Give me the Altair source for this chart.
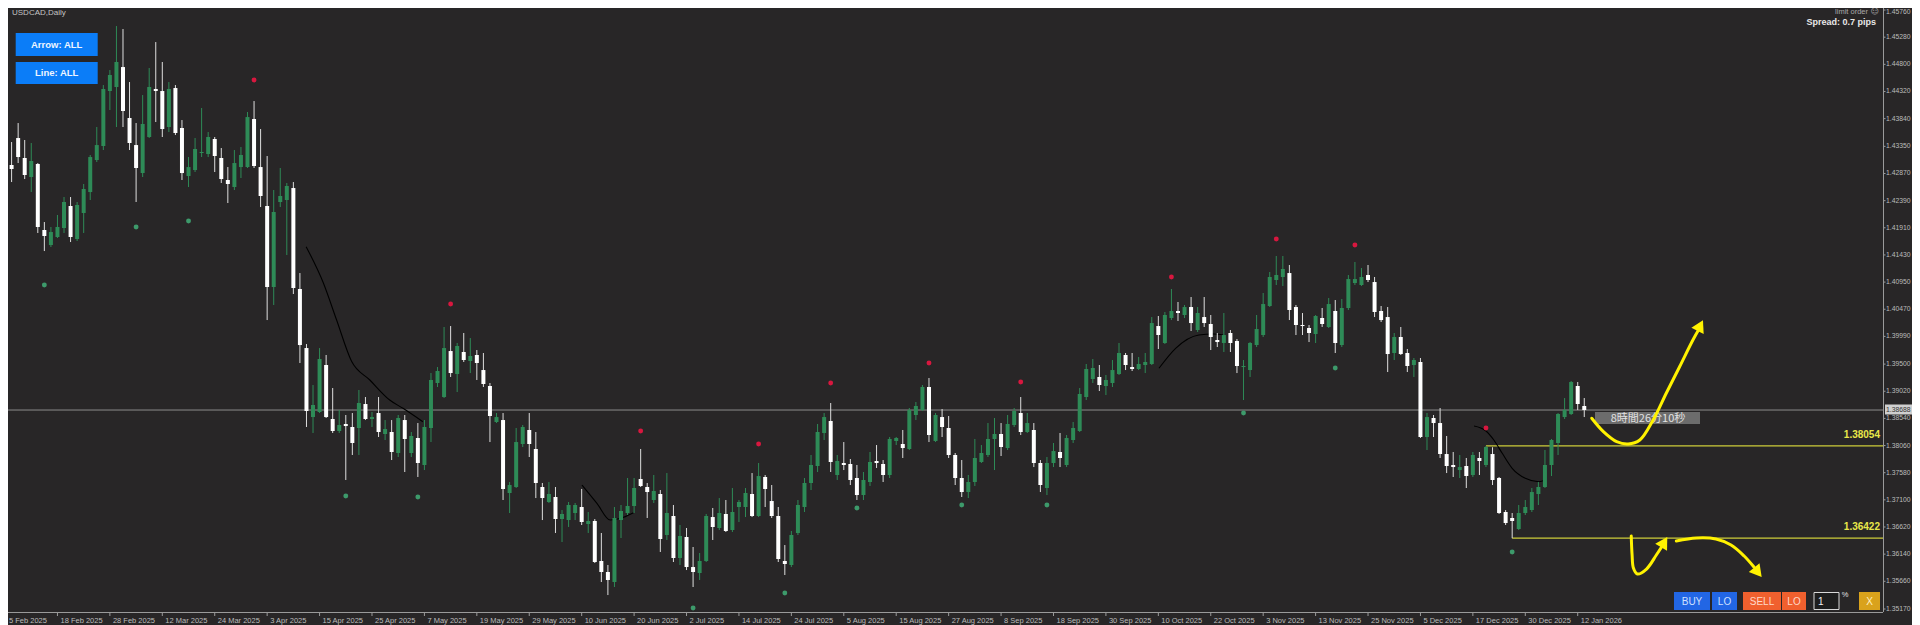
import altair as alt
import pandas as pd

# ---------------- data ----------------
date_labels = ["5 Feb 2025", "18 Feb 2025", "28 Feb 2025", "12 Mar 2025", "24 Mar 2025",
               "3 Apr 2025", "15 Apr 2025", "25 Apr 2025", "7 May 2025", "19 May 2025",
               "29 May 2025", "10 Jun 2025", "20 Jun 2025", "2 Jul 2025", "14 Jul 2025",
               "24 Jul 2025", "5 Aug 2025", "15 Aug 2025", "27 Aug 2025", "8 Sep 2025",
               "18 Sep 2025", "30 Sep 2025", "10 Oct 2025", "22 Oct 2025", "3 Nov 2025",
               "13 Nov 2025", "25 Nov 2025", "5 Dec 2025", "17 Dec 2025", "30 Dec 2025",
               "12 Jan 2026"]

price_ticks = [1.45760, 1.45280, 1.44800, 1.44320, 1.43840, 1.43350, 1.42870, 1.42390,
               1.41910, 1.41430, 1.40950, 1.40470, 1.39990, 1.39500, 1.39020, 1.38540,
               1.38060, 1.37580, 1.37100, 1.36620, 1.36140, 1.35660, 1.35170]

opens = [
    1.43126, 1.43020, 1.43497, 1.43144, 1.42808, 1.43038, 1.41871, 1.41605, 1.41747, 1.41906,
    1.42295, 1.41712, 1.42171, 1.42542, 1.43108, 1.43356, 1.44328, 1.44399, 1.44752, 1.43851,
    1.43373, 1.42878, 1.43515, 1.44364, 1.44328, 1.43692, 1.44381, 1.43674, 1.42825, 1.42931,
    1.43232, 1.43214, 1.43480, 1.43144, 1.42755, 1.42631, 1.42984, 1.42984, 1.43833, 1.42984,
    1.42295, 1.40863, 1.42366, 1.42401, 1.42613, 1.40828, 1.39784, 1.38564, 1.38653, 1.39484,
    1.38529, 1.38317, 1.38441, 1.38388, 1.38370, 1.38794, 1.38529, 1.38635, 1.38264, 1.38299,
    1.37928, 1.38511, 1.37928, 1.38193, 1.37716, 1.38370, 1.39166, 1.38918, 1.39731, 1.39325,
    1.39714, 1.39555, 1.39661, 1.39395, 1.39113, 1.38476, 1.38511, 1.37221, 1.37327, 1.38087,
    1.38335, 1.37999, 1.37327, 1.37062, 1.37150, 1.36761, 1.36743, 1.36867, 1.36973, 1.36673,
    1.36726, 1.36019, 1.35824, 1.35647, 1.36743, 1.36867, 1.36991, 1.37468, 1.37327, 1.37097,
    1.37203, 1.36478, 1.36814, 1.36072, 1.36443, 1.35912, 1.35806, 1.36019, 1.36796, 1.36602,
    1.36850, 1.36567, 1.36973, 1.36973, 1.37203, 1.36814, 1.37504, 1.37079, 1.36814, 1.36019,
    1.35948, 1.36514, 1.36973, 1.37398, 1.37698, 1.38282, 1.38494, 1.37539, 1.37751, 1.37734,
    1.37486, 1.37185, 1.37415, 1.37787, 1.37734, 1.37539, 1.38140, 1.38087, 1.37999, 1.38600,
    1.38688, 1.39095, 1.38140, 1.38564, 1.38370, 1.37893, 1.37486, 1.37238, 1.37415, 1.37769,
    1.37893, 1.38176, 1.38264, 1.38016, 1.38423, 1.38635, 1.38299, 1.38335, 1.37751, 1.37309,
    1.37751, 1.37946, 1.37716, 1.38158, 1.38317, 1.38918, 1.39236, 1.39272, 1.39113, 1.39166,
    1.39325, 1.39661, 1.39448, 1.39413, 1.39484, 1.39502, 1.40173, 1.39873, 1.40315, 1.40439,
    1.40368, 1.40509, 1.40103, 1.40332, 1.40209, 1.39926, 1.39873, 1.40050, 1.39908, 1.39448,
    1.39395, 1.39837, 1.40014, 1.40527, 1.40987, 1.41040, 1.41110, 1.40509, 1.40191, 1.40138,
    1.40032, 1.40315, 1.40156, 1.40439, 1.39837, 1.40492, 1.40934, 1.40898, 1.41075, 1.40951,
    1.40439, 1.40332, 1.39696, 1.39979, 1.39696, 1.39484, 1.39537, 1.38211, 1.38547, 1.38458,
    1.37910, 1.37716, 1.37627, 1.37698, 1.37539, 1.37840, 1.37716, 1.37910, 1.37486, 1.36885,
    1.36779, 1.36584, 1.36867, 1.36920, 1.37203, 1.37327, 1.37716, 1.38105, 1.38564, 1.38618,
    1.39113, 1.38759]

highs = [
    1.43232, 1.43426, 1.43762, 1.43462, 1.43409, 1.43055, 1.42012, 1.41924, 1.42136, 1.42454,
    1.42454, 1.42366, 1.42684, 1.43197, 1.43692, 1.44434, 1.44699, 1.45477, 1.45424, 1.44487,
    1.43762, 1.44257, 1.44735, 1.45194, 1.44841, 1.44487, 1.44434, 1.43815, 1.43161, 1.43497,
    1.44028, 1.43603, 1.43515, 1.43320, 1.42984, 1.43285, 1.43338, 1.43957, 1.44151, 1.43656,
    1.43179, 1.42578, 1.42967, 1.42702, 1.42719, 1.41110, 1.39855, 1.39130, 1.39784, 1.39661,
    1.39077, 1.38688, 1.38600, 1.38635, 1.39042, 1.38918, 1.38653, 1.38918, 1.38511, 1.38511,
    1.38600, 1.38600, 1.38299, 1.38458, 1.38511, 1.39342, 1.39448, 1.40156, 1.40173, 1.39873,
    1.40050, 1.39961, 1.39749, 1.39696, 1.39166, 1.38635, 1.38635, 1.37415, 1.38370, 1.38423,
    1.38635, 1.38299, 1.37398, 1.37415, 1.37327, 1.36920, 1.37062, 1.37044, 1.37292, 1.36885,
    1.36761, 1.36514, 1.35948, 1.36973, 1.37009, 1.37486, 1.37486, 1.37999, 1.37398, 1.37539,
    1.37274, 1.37574, 1.37009, 1.36655, 1.36602, 1.36266, 1.36160, 1.36850, 1.36956, 1.37132,
    1.37097, 1.37309, 1.37097, 1.37309, 1.37574, 1.37751, 1.37539, 1.37362, 1.36973, 1.36301,
    1.36549, 1.37097, 1.37486, 1.37893, 1.38441, 1.38635, 1.38812, 1.37893, 1.38122, 1.37822,
    1.37716, 1.37592, 1.37946, 1.38069, 1.37804, 1.38211, 1.38211, 1.38335, 1.38724, 1.38830,
    1.39130, 1.39254, 1.38635, 1.38706, 1.38582, 1.37928, 1.37804, 1.37539, 1.38176, 1.38069,
    1.38458, 1.38547, 1.38458, 1.38600, 1.38724, 1.38918, 1.38635, 1.38458, 1.37804, 1.37857,
    1.38105, 1.38282, 1.38246, 1.38476, 1.39077, 1.39502, 1.39590, 1.39484, 1.39307, 1.39572,
    1.39873, 1.39696, 1.39696, 1.39625, 1.39696, 1.40332, 1.40350, 1.40421, 1.40828, 1.40598,
    1.40545, 1.40686, 1.40509, 1.40686, 1.40368, 1.40050, 1.40403, 1.40103, 1.39944, 1.39572,
    1.39890, 1.40368, 1.40757, 1.41128, 1.41411, 1.41411, 1.41252, 1.40545, 1.40403, 1.40191,
    1.40368, 1.40492, 1.40668, 1.40633, 1.40651, 1.41075, 1.41305, 1.41199, 1.41252, 1.41040,
    1.40527, 1.40509, 1.40050, 1.40156, 1.39767, 1.39608, 1.39608, 1.38635, 1.38600, 1.38724,
    1.38229, 1.37946, 1.37893, 1.37840, 1.37946, 1.37946, 1.38054, 1.38030, 1.37504, 1.36920,
    1.36867, 1.37009, 1.37097, 1.37309, 1.37415, 1.37981, 1.38176, 1.38635, 1.38900, 1.39201,
    1.39183, 1.38900]

lows = [
    1.42984, 1.42719, 1.43055, 1.42772, 1.42542, 1.41818, 1.41499, 1.41570, 1.41729, 1.41818,
    1.41658, 1.41676, 1.41818, 1.42401, 1.43073, 1.43285, 1.43992, 1.43692, 1.43692, 1.43285,
    1.42366, 1.42808, 1.43497, 1.43780, 1.43515, 1.43603, 1.43550, 1.42755, 1.42631, 1.42896,
    1.43161, 1.43161, 1.42896, 1.42702, 1.42348, 1.42578, 1.42790, 1.42967, 1.42967, 1.42277,
    1.40279, 1.40545, 1.42277, 1.41429, 1.40739, 1.39519, 1.38388, 1.38282, 1.38635, 1.38547,
    1.38282, 1.38282, 1.37451, 1.37893, 1.37893, 1.38511, 1.38388, 1.38211, 1.38158, 1.37804,
    1.37857, 1.37592, 1.37857, 1.37504, 1.37627, 1.38122, 1.39095, 1.38900, 1.39272, 1.39006,
    1.39537, 1.39342, 1.39219, 1.39095, 1.38122, 1.38458, 1.37097, 1.36867, 1.37309, 1.38034,
    1.37857, 1.37132, 1.36743, 1.37044, 1.36514, 1.36354, 1.36620, 1.36743, 1.36655, 1.36514,
    1.35983, 1.35647, 1.35417, 1.35559, 1.36425, 1.36832, 1.36867, 1.37327, 1.36779, 1.37044,
    1.36178, 1.36390, 1.36001, 1.35948, 1.35859, 1.35559, 1.35683, 1.36001, 1.36390, 1.36567,
    1.36531, 1.36531, 1.36708, 1.36796, 1.36796, 1.36796, 1.36973, 1.36779, 1.36001, 1.35771,
    1.35912, 1.36478, 1.36885, 1.37274, 1.37592, 1.38158, 1.37592, 1.37451, 1.37627, 1.37362,
    1.37097, 1.37097, 1.37345, 1.37663, 1.37415, 1.37486, 1.38069, 1.37840, 1.37981, 1.38511,
    1.38671, 1.38122, 1.38122, 1.38211, 1.37840, 1.37362, 1.37150, 1.37132, 1.37345, 1.37751,
    1.37857, 1.37627, 1.37875, 1.37981, 1.38388, 1.38246, 1.38282, 1.37680, 1.37238, 1.37185,
    1.37680, 1.37680, 1.37680, 1.38105, 1.38299, 1.38865, 1.39166, 1.39024, 1.38953, 1.39095,
    1.39307, 1.39395, 1.39378, 1.39395, 1.39342, 1.39484, 1.39767, 1.39855, 1.40279, 1.40262,
    1.40315, 1.40085, 1.40067, 1.40156, 1.39749, 1.39802, 1.39714, 1.39714, 1.39342, 1.38865,
    1.39272, 1.39802, 1.39979, 1.40509, 1.40898, 1.40881, 1.40279, 1.40014, 1.40014, 1.39890,
    1.39873, 1.40156, 1.40138, 1.39696, 1.39802, 1.40456, 1.40898, 1.40881, 1.40951, 1.40332,
    1.40244, 1.39360, 1.39572, 1.39661, 1.39360, 1.39272, 1.38193, 1.37981, 1.38211, 1.37840,
    1.37574, 1.37504, 1.37486, 1.37309, 1.37504, 1.37539, 1.37680, 1.37362, 1.36850, 1.36655,
    1.36422, 1.36567, 1.36832, 1.36885, 1.37009, 1.37309, 1.37521, 1.37893, 1.38529, 1.38600,
    1.38688, 1.38564]

closes = [
    1.43055, 1.42949, 1.43161, 1.42843, 1.43091, 1.41924, 1.41765, 1.41835, 1.41924, 1.42366,
    1.41747, 1.42313, 1.42596, 1.43161, 1.43373, 1.44364, 1.44611, 1.44841, 1.43975, 1.43409,
    1.42967, 1.43745, 1.44399, 1.44328, 1.43656, 1.44364, 1.43586, 1.42878, 1.42984, 1.43303,
    1.43250, 1.43515, 1.43179, 1.42772, 1.42684, 1.43055, 1.43197, 1.43868, 1.43002, 1.42472,
    1.40863, 1.42189, 1.42472, 1.42649, 1.40845, 1.39837, 1.38671, 1.38777, 1.39590, 1.38564,
    1.38317, 1.38423, 1.38405, 1.38105, 1.38812, 1.38529, 1.38564, 1.38299, 1.38352, 1.37946,
    1.38547, 1.38176, 1.38229, 1.37751, 1.38388, 1.39219, 1.39378, 1.39784, 1.39342, 1.39820,
    1.39572, 1.39643, 1.39519, 1.39148, 1.38582, 1.38564, 1.37292, 1.37362, 1.38122, 1.38388,
    1.38087, 1.37398, 1.37132, 1.37203, 1.36761, 1.36850, 1.37009, 1.37009, 1.36708, 1.36726,
    1.36001, 1.35824, 1.35683, 1.36779, 1.36903, 1.36991, 1.37309, 1.37345, 1.37238, 1.37256,
    1.36408, 1.36867, 1.36072, 1.36461, 1.35912, 1.35824, 1.36019, 1.36814, 1.36620, 1.36867,
    1.36549, 1.36885, 1.37062, 1.37221, 1.36814, 1.37521, 1.37292, 1.36814, 1.36054, 1.35966,
    1.36478, 1.37009, 1.37398, 1.37716, 1.38299, 1.38564, 1.37769, 1.37787, 1.37716, 1.37451,
    1.37185, 1.37451, 1.37769, 1.37751, 1.37539, 1.38176, 1.38193, 1.38016, 1.38688, 1.38759,
    1.39095, 1.38246, 1.38600, 1.38388, 1.37893, 1.37486, 1.37238, 1.37415, 1.37840, 1.37928,
    1.38176, 1.38264, 1.38034, 1.38441, 1.38671, 1.38299, 1.38458, 1.37751, 1.37362, 1.37751,
    1.37963, 1.37840, 1.38193, 1.38370, 1.38971, 1.39413, 1.39431, 1.39130, 1.39219, 1.39395,
    1.39696, 1.39484, 1.39413, 1.39502, 1.39537, 1.40226, 1.40014, 1.40368, 1.40439, 1.40403,
    1.40509, 1.40226, 1.40403, 1.40226, 1.39979, 1.39890, 1.40014, 1.39873, 1.39466, 1.39466,
    1.39873, 1.40120, 1.40562, 1.41040, 1.41075, 1.41181, 1.40456, 1.40191, 1.40173, 1.40050,
    1.40350, 1.40209, 1.40562, 1.39873, 1.40492, 1.41004, 1.41004, 1.41040, 1.40987, 1.40421,
    1.40279, 1.39678, 1.39979, 1.39678, 1.39466, 1.39572, 1.38211, 1.38564, 1.38458, 1.37910,
    1.37698, 1.37680, 1.37680, 1.37521, 1.37893, 1.37787, 1.38034, 1.37451, 1.36867, 1.36690,
    1.36726, 1.36867, 1.36973, 1.37238, 1.37327, 1.37716, 1.38158, 1.38618, 1.38688, 1.39183,
    1.38794, 1.38688]

# black indicator line pieces (bar index, price)
ma_seg = [0] * 8 + [1] * 5 + [2] * 5 + [3] * 8
ma_i = [45.95, 48.58, 50.60, 52.88, 55.67, 58.70, 60.73, 63.76,
        88.05, 90.33, 92.35, 94.38, 95.90,
        176.10, 178.64, 182.18, 184.45, 185.97,
        224.18, 225.95, 227.20, 228.48, 230.00, 232.00, 234.05, 235.05]
ma_p = [1.41576, 1.40934, 1.40279, 1.39550, 1.39219, 1.38865, 1.38718, 1.38481,
        1.37362, 1.37039, 1.36743, 1.36791, 1.36872,
        1.39426, 1.39779, 1.40014, 1.40032, 1.40014,
        1.38405, 1.38322, 1.38158, 1.37923, 1.37658, 1.37481, 1.37421, 1.37451]

# fractal dots
red_i = [18, 38, 68, 97, 115, 126, 141, 155, 178, 194, 206, 226]
red_p = [1.45866, 1.44523, 1.40562, 1.38317, 1.38087, 1.39166, 1.39519, 1.39183,
         1.41040, 1.41712, 1.41605, 1.38370]
grn_i = [6, 20, 28, 52, 63, 105, 119, 130, 146, 159, 189, 203, 230]
grn_p = [1.40898, 1.41924, 1.42030, 1.37168, 1.37150, 1.35188, 1.35453, 1.36956,
         1.37009, 1.37009, 1.38635, 1.39431, 1.36178]

# horizontal levels
level_start = [226, 230]
level_price = [1.38054, 1.36422]

# hand-drawn yellow arrows (bar index, price)
arrow_seg = [0] * 10 + [1] * 7 + [2] * 6
arrow_i = [242.14, 243.92, 245.94, 247.71, 249.48, 251.51, 253.53, 255.55, 257.58, 258.59,
           248.17, 248.30, 248.50, 249.10, 250.50, 252.00, 252.90,
           255.05, 258.10, 261.10, 263.40, 265.40, 266.90]
arrow_p = [1.38542, 1.38305, 1.38128, 1.38087, 1.38158, 1.38511, 1.38989, 1.39454, 1.39926, 1.40133,
           1.36461, 1.36125, 1.35894, 1.35789, 1.35877, 1.36125, 1.36284,
           1.36372, 1.36425, 1.36408, 1.36301, 1.36107, 1.35912]
head_i = [258.7, 253.2, 267.5]
head_p = [1.40183, 1.36353, 1.35819]
head_angle = [27, 31, 141]

countdown = "8時間26分10秒"

# ---------------- layout / style ----------------
# The page keeps an 8px margin, so the chart starts 8px in; overlay positions
# below are given in screenshot pixels and converted with R().
M = 8
TOTAL_W, TOTAL_H = 1920 - 2 * M, 625 - M          # whole drawing = the view
AX_X, AX_Y = 1883 - M, 612 - M                    # where the price / time axes sit
PX_PER_BAR = 6.58737
PX_PER_UNIT = 5655.96
X_LO = 1.2145
X_HI = X_LO + TOTAL_W / PX_PER_BAR
P_HI = 1.45796
P_LO = P_HI - TOTAL_H / PX_PER_UNIT
BG = "#282627"
UP = "#2e8b57"
DOWN = "#ffffff"
DOWN_WICK = "#dedede"
AX = "#9a9a9a"
LAB = "#bcbcbc"
YEL_LINE = "#cdcd3a"
YEL = "#fff200"
FONT = "Liberation Sans"
AXFS = 6.8


def R(v):
    return v - M


bars = pd.DataFrame({"i": list(range(len(opens))), "open": opens, "high": highs,
                     "low": lows, "close": closes})
bars["top"] = bars[["open", "close"]].max(axis=1)
bars["bot"] = bars[["open", "close"]].min(axis=1)
up = bars[bars["close"] >= bars["open"]]
dn = bars[bars["close"] < bars["open"]]

xs = alt.Scale(domain=[X_LO, X_HI], nice=False, zero=False)
ys = alt.Scale(domain=[P_LO, P_HI], nice=False, zero=False)


def xq(f):
    return alt.X(f, type="quantitative", scale=xs, axis=None)


def yq(f):
    return alt.Y(f, type="quantitative", scale=ys, axis=None)


one = pd.DataFrame({"k": [0]})


def box(x1, x2, y1, y2, fill, stroke=None):
    kw = {"fill": fill}
    if stroke:
        kw.update(stroke=stroke, strokeWidth=1)
    else:
        kw.update(strokeWidth=0)
    return alt.Chart(one).mark_rect(**kw).encode(
        x=alt.value(R(x1)), x2=alt.value(R(x2)), y=alt.value(R(y1)), y2=alt.value(R(y2)))


def label(x, y, text, size, color, weight="normal", align="center", font=FONT):
    return alt.Chart(one).mark_text(text=text, fontSize=size, color=color, fontWeight=weight,
                                    align=align, baseline="middle", font=font).encode(
        x=alt.value(R(x)), y=alt.value(R(y)))


backdrop = box(M, 1920, M, 625, BG)

# price axis (right) and time axis (bottom), drawn through the chart's scales
x_line = alt.Chart(one).mark_rule(color=AX, strokeWidth=1).encode(
    x=alt.value(0), x2=alt.value(AX_X), y=alt.value(AX_Y + 0.5))
y_line = alt.Chart(one).mark_rule(color=AX, strokeWidth=1).encode(
    x=alt.value(AX_X + 0.5), y=alt.value(0), y2=alt.value(AX_Y))

pt_df = pd.DataFrame({"p": price_ticks, "t": ["%.5f" % v for v in price_ticks]})
y_ticks = alt.Chart(pt_df).mark_rule(color=AX, strokeWidth=1).encode(
    x=alt.value(AX_X), x2=alt.value(AX_X + 2.5), y=yq("p"))
# the top label would poke above the page, so it hangs from its tick instead
y_label_top = alt.Chart(pt_df.iloc[:1]).mark_text(align="left", baseline="top", font=FONT,
                                                  fontSize=AXFS, color=LAB, dy=-1).encode(
    x=alt.value(AX_X + 3), y=yq("p"), text="t:N")
y_labels = alt.Chart(pt_df.iloc[1:]).mark_text(align="left", baseline="middle", font=FONT,
                                               fontSize=AXFS, color=LAB).encode(
    x=alt.value(AX_X + 3), y=yq("p"), text="t:N")

dt_df = pd.DataFrame({"i": [8 * k for k in range(len(date_labels))], "t": date_labels})
x_ticks = alt.Chart(dt_df).mark_rule(color=AX, strokeWidth=1).encode(
    x=xq("i"), y=alt.value(AX_Y), y2=alt.value(AX_Y + 4))
# the first date sits at the page edge, keep it fully on the page
x_label_first = alt.Chart(dt_df.iloc[:1]).mark_text(align="left", baseline="middle", font=FONT,
                                                    fontSize=7.5, color=LAB).encode(
    x=alt.value(1), y=alt.value(AX_Y + 8.5), text="t:N")
x_labels = alt.Chart(dt_df.iloc[1:]).mark_text(align="left", baseline="middle", font=FONT,
                                               fontSize=7.5, color=LAB, dx=3).encode(
    x=xq("i"), y=alt.value(AX_Y + 8.5), text="t:N")

last = pd.DataFrame({"p": [closes[-1]], "t": ["%.5f" % closes[-1]]})
price_line = alt.Chart(last).mark_rule(color="#8c8c8c", strokeWidth=1).encode(
    x=alt.value(0), x2=alt.value(AX_X), y=yq("p"))

wick_up = alt.Chart(up).mark_rule(color=UP, strokeWidth=1).encode(x=xq("i"), y=yq("low"), y2="high:Q")
wick_dn = alt.Chart(dn).mark_rule(color=DOWN_WICK, strokeWidth=1).encode(x=xq("i"), y=yq("low"), y2="high:Q")
body_up = alt.Chart(up).mark_bar(size=4, color=UP, orient="vertical").encode(x=xq("i"), y=yq("bot"), y2="top:Q")
body_dn = alt.Chart(dn).mark_bar(size=4, color=DOWN, orient="vertical").encode(x=xq("i"), y=yq("bot"), y2="top:Q")

ma = pd.DataFrame({"seg": ma_seg, "i": ma_i, "p": ma_p, "k": list(range(len(ma_i)))})
ma_lines = alt.Chart(ma).mark_line(color="#000000", strokeWidth=1.1, interpolate="monotone").encode(
    x=xq("i"), y=yq("p"), detail="seg:N", order="k:Q")

reds = pd.DataFrame({"i": red_i, "p": red_p})
grns = pd.DataFrame({"i": grn_i, "p": grn_p})
dots_red = alt.Chart(reds).mark_circle(size=24, color="#d8173f", opacity=1).encode(x=xq("i"), y=yq("p"))
dots_grn = alt.Chart(grns).mark_circle(size=24, color="#3d9a6b", opacity=1).encode(x=xq("i"), y=yq("p"))

lv = pd.DataFrame({"s": level_start, "p": level_price, "t": ["%.5f" % v for v in level_price]})
level_lines = alt.Chart(lv).mark_rule(color=YEL_LINE, strokeWidth=1.3).encode(
    x=xq("s"), x2=alt.value(AX_X), y=yq("p"))
level_text = alt.Chart(lv).mark_text(align="right", baseline="middle", dy=-11, font=FONT,
                                     fontWeight="bold", fontSize=10, color="#e8e84a").encode(
    x=alt.value(AX_X - 3), y=yq("p"), text="t:N")

arr = pd.DataFrame({"seg": arrow_seg, "i": arrow_i, "p": arrow_p, "k": list(range(len(arrow_i)))})
arrows = alt.Chart(arr).mark_line(color=YEL, strokeWidth=3, strokeCap="round",
                                  interpolate="catmull-rom").encode(
    x=xq("i"), y=yq("p"), detail="seg:N", order="k:Q")
hd = pd.DataFrame({"i": head_i, "p": head_p, "a": head_angle})
heads = alt.Chart(hd).mark_point(shape="triangle-up", filled=True, size=190, color=YEL,
                                 opacity=1, strokeWidth=0).encode(
    x=xq("i"), y=yq("p"), angle=alt.Angle("a:Q", scale=None))

# countdown box next to the last bar
cd_box = box(1595, 1700, 412, 424, "#6c6c6c")
cd_text = label(1648, 418.5, countdown, 11, "#e2e2e2", font="Noto Sans CJK JP")

# current price box on the axis
pb = box(1885, 1920, 404.5, 414.5, "#cfcfcf")
pt = alt.Chart(last).mark_text(align="left", baseline="middle", font=FONT, fontSize=AXFS,
                               color="#333333").encode(x=alt.value(AX_X + 3), y=yq("p"), text="t:N")

# header texts (kept just inside the visible page)
hdr = label(12, 12.5, "USDCAD,Daily", 8, "#c4c4c4", align="left")
lim = label(1868, 12, "limit order", 7.5, "#a8a8a8", align="right")
smile = label(1875, 12, "☺", 8, "#a8a8a8", font="DejaVu Sans")
spread = label(1876, 21.5, "Spread: 0.7 pips", 9, "#e8e8e8", weight="bold", align="right")

# buttons
btn_layers = [
    box(15.7, 97.7, 33, 56, "#0b7df8"), label(56.7, 44.8, "Arrow: ALL", 9.5, "#eef5ff", "bold"),
    box(15.7, 97.7, 62, 84, "#0b7df8"), label(56.7, 73.3, "Line: ALL", 9.5, "#eef5ff", "bold"),
    box(1674, 1710, 592, 610, "#2266e4"), label(1692, 601.5, "BUY", 10, "#cfe0ff"),
    box(1712, 1737, 592, 610, "#2266e4"), label(1724.5, 601.5, "LO", 10, "#cfe0ff"),
    box(1743, 1781, 592, 610, "#f0602e"), label(1762, 601.5, "SELL", 10, "#ffd8c8"),
    box(1782, 1806, 592, 610, "#f0602e"), label(1794, 601.5, "LO", 10, "#ffd8c8"),
    box(1814, 1839, 592.5, 609.5, "#1e1e1e", "#d8d8d8"), label(1818, 601.5, "1", 10, "#f0f0f0", align="left"),
    label(1845, 594.5, "%", 7.5, "#e0e0e0"),
    box(1859, 1880, 592, 610, "#d9a21c"), label(1869.5, 601.5, "X", 10, "#fff1c2"),
]

chart = alt.layer(
    backdrop, x_line, y_line, y_ticks, y_label_top, y_labels, x_ticks, x_label_first, x_labels,
    price_line, level_lines, ma_lines,
    wick_up, wick_dn, body_up, body_dn, dots_red, dots_grn,
    cd_box, cd_text, arrows, heads, level_text, pb, pt,
    hdr, lim, smile, spread, *btn_layers
).properties(
    width=TOTAL_W, height=TOTAL_H,
    autosize=alt.AutoSizeParams(type="none"),
    padding=0,
    background=BG,
).configure_view(stroke=None, fill=BG)

chart.save("out.html", embed_options={"renderer": "svg", "actions": False})
